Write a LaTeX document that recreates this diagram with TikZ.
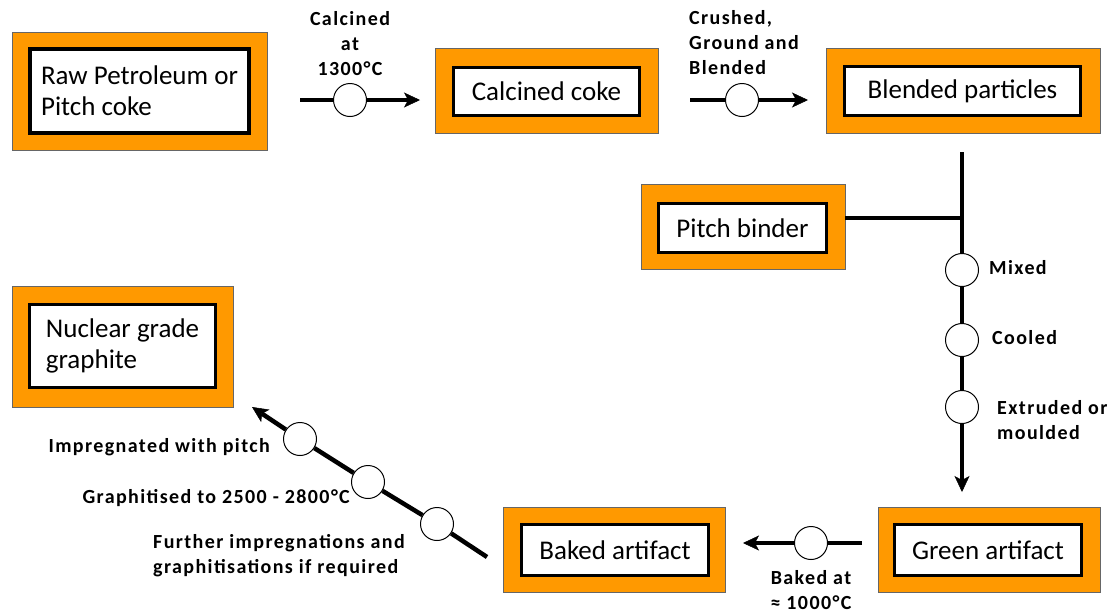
\documentclass[tikz,border=0pt]{standalone}
\usepackage{fontspec}
\setmainfont{Carlito}
\newfontfamily\spacedfont[LetterSpace=7]{Carlito}
\usetikzlibrary{arrows.meta}
\definecolor{boxorange}{HTML}{FF9900}
\newcommand{\boxfont}{\fontsize{27}{31}\selectfont}
\newcommand{\stepfont}{\spacedfont\bfseries\fontsize{20}{25}\selectfont}

\begin{document}
\begin{tikzpicture}[x=1pt,y=-1pt,
    frame/.style={draw=black!60, line width=0.8pt, fill=boxorange, inner sep=0pt},
    panel/.style={draw=black, line width=3.5pt, fill=white, font=\boxfont, align=left},
    stop/.style={circle, draw=black, line width=1pt, fill=white, minimum size=33pt, inner sep=0pt},
    flow/.style={line width=4.5pt},
    tip/.style={flow, -{Stealth[length=16pt,width=15pt,inset=4pt,line width=0.5pt]}},
    note/.style={font=\stepfont, align=left, inner sep=0pt}]
    \useasboundingbox (0,0) rectangle (1117,614);

    % Boxes
    \node[frame, minimum width=255pt, minimum height=118pt] (rawbg) at (139.5,91) {};
    \node[panel, minimum width=219pt, minimum height=84pt] (raw) at (rawbg) {Raw Petroleum or\\Pitch coke};

    \node[frame, minimum width=223pt, minimum height=85pt] (calcbg) at (546.5,90.5) {};
    \node[panel, minimum width=186pt, minimum height=48pt] (calc) at (546.5,91.5) {Calcined coke};

    \node[frame, minimum width=274pt, minimum height=85pt] (blendbg) at (963,90.5) {};
    \node[panel, minimum width=236pt, minimum height=49pt] (blend) at (962.5,91) {Blended particles};

    \node[frame, minimum width=204pt, minimum height=85pt] (pitchbg) at (743,226.5) {};
    \node[panel, minimum width=168pt, minimum height=49pt] (pitch) at (742.5,228) {Pitch binder};

    \node[frame, minimum width=221pt, minimum height=121pt] (nuclbg) at (122.5,346.5) {};
    \node[panel, minimum width=186pt, minimum height=83pt] (nucl) at (122.5,346) {Nuclear grade\\graphite};

    \node[frame, minimum width=222pt, minimum height=85pt] (bakedbg) at (614,549.5) {};
    \node[panel, minimum width=187pt, minimum height=51pt] (baked) at (615,550) {Baked artifact};

    \node[frame, minimum width=222pt, minimum height=85pt] (greenbg) at (989,549.5) {};
    \node[panel, minimum width=187pt, minimum height=51pt] (green) at (988,550) {Green artifact};

    % Calcining
    \coordinate (calcin) at (300,100);
    \coordinate (calcout) at (420,100);
    \node[stop] (calcstop) at (350,100) {};
    \draw[flow] (calcin) -- (calcstop);
    \draw[tip] (calcstop) -- (calcout);
    \node[note, align=center] (calclabel) at (350,44) {Calcined\\at\\1300°C};

    % Crushing
    \coordinate (crushin) at (690,100);
    \coordinate (crushout) at (808,100);
    \node[stop] (crushstop) at (742,100) {};
    \draw[flow] (crushin) -- (crushstop);
    \draw[tip] (crushstop) -- (crushout);
    \node[note, anchor=west] (crushlabel) at (689,43) {Crushed,\\Ground and\\Blended};

    % Mixing line
    \coordinate (mixin) at (962,152);
    \coordinate (join) at (962,218);
    \coordinate (mixout) at (962,492);
    \node[stop] (mixstop) at (962,270) {};
    \node[stop] (coolstop) at (962,340) {};
    \node[stop] (extrstop) at (962,407) {};
    \draw[flow] (mixin) -- (mixstop);
    \draw[flow] (pitchbg.east |- join) -- (join);
    \draw[flow] (mixstop) -- (coolstop);
    \draw[flow] (coolstop) -- (extrstop);
    \draw[tip] (extrstop) -- (mixout);
    \node[note, anchor=west] (mixlabel) at (989,268) {Mixed};
    \node[note, anchor=west] (coollabel) at (992,338) {Cooled};
    \node[note, anchor=west] (extrlabel) at (997,420) {Extruded or\\moulded};

    % Baking
    \coordinate (bakein) at (862,543);
    \coordinate (bakeout) at (743,543);
    \node[stop] (bakestop) at (811,543) {};
    \draw[flow] (bakein) -- (bakestop);
    \draw[tip] (bakestop) -- (bakeout);
    \node[note, align=center] (bakelabel) at (811,590) {Baked at\\≈ 1000°C};

    % Graphitising
    \coordinate (graphin) at (487,557);
    \coordinate (graphout) at (252,407);
    \node[stop] (furtherstop) at (437,524) {};
    \node[stop] (graphstop) at (368,482) {};
    \node[stop] (impregstop) at (300,439) {};
    \draw[flow] (graphin) -- (furtherstop);
    \draw[flow] (furtherstop) -- (graphstop);
    \draw[flow] (graphstop) -- (impregstop);
    \draw[tip] (impregstop) -- (graphout);
    \node[note, anchor=east] (impreglabel) at (270,447) {Impregnated with pitch};
    \node[note, anchor=east] (graphlabel) at (350,498) {Graphitised to 2500 - 2800°C};
    \node[note, anchor=west] (furtherlabel) at (153,556) {Further impregnations and\\graphitisations if required};
\end{tikzpicture}
\end{document}
